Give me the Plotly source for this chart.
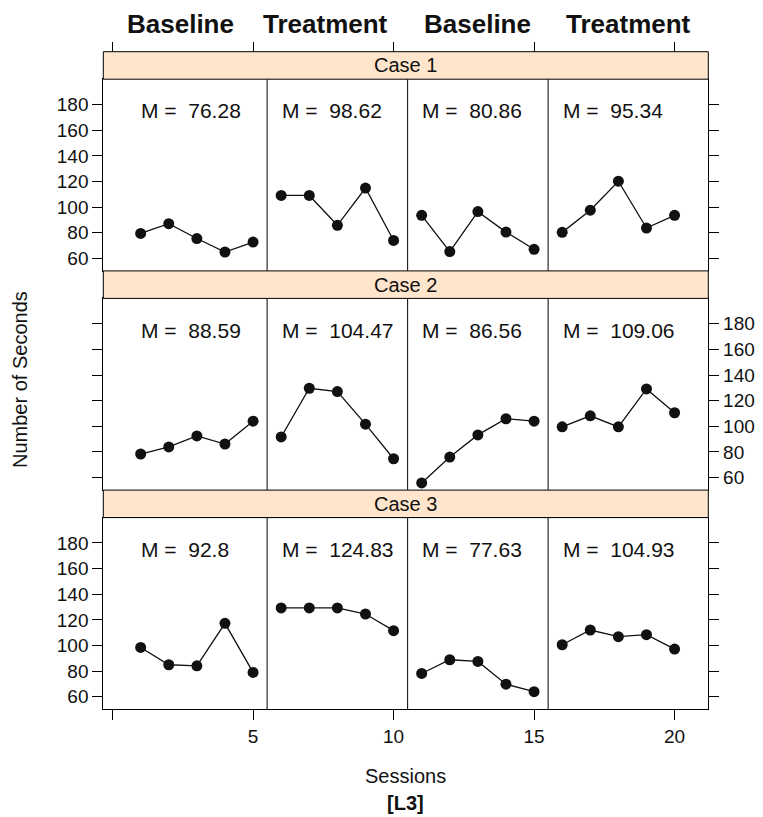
import plotly.graph_objects as go

# ---------------- data ----------------
sessions = list(range(1, 21))
phase_names = ["Baseline", "Treatment", "Baseline", "Treatment"]
phase_starts = [1, 6, 11, 16]
phase_bounds = [5.5, 10.5, 15.5]
cases = ["Case 1", "Case 2", "Case 3"]

case1_values = [79.5, 87.1, 75.5, 65.0, 72.7,
                109.1, 109.1, 85.8, 114.9, 74.0,
                93.6, 65.3, 96.5, 80.5, 67.1,
                80.3, 97.6, 120.2, 83.7, 93.6]
case2_values = [78.4, 83.9, 92.5, 86.2, 104.0,
                91.7, 129.7, 127.1, 101.7, 74.7,
                55.8, 76.0, 93.3, 105.9, 104.0,
                99.6, 108.2, 99.6, 129.2, 110.6]
case3_values = [98.5, 85.0, 84.2, 117.3, 79.0,
                129.3, 129.3, 129.3, 124.6, 111.6,
                78.2, 88.9, 87.6, 69.8, 64.0,
                100.6, 112.1, 106.9, 108.5, 97.2]
case_values = [case1_values, case2_values, case3_values]

case1_means = ["76.28", "98.62", "80.86", "95.34"]
case2_means = ["88.59", "104.47", "86.56", "109.06"]
case3_means = ["92.8", "124.83", "77.63", "104.93"]
case_means = [case1_means, case2_means, case3_means]

x_tickvals = [0, 5, 10, 15, 20]
x_ticktext = ["", "5", "10", "15", "20"]
y_tickvals = [60, 80, 100, 120, 140, 160, 180]

# ---------------- layout geometry ----------------
W, H = 763, 817
OFF = 8  # page body margin compensation
FONT = "Liberation Sans, Arial, Helvetica, sans-serif"
STRIP_FILL = "#ffe5cc"
INK = "#111111"

def px_x(p):
    return (p - OFF) / W

def px_y(p):
    return 1 - (p - OFF) / H

panel_left, panel_right = 103.3, 708.3
strip_tops = [51.7, 270.9, 490.1]
strip_h = 27.5
panel_h = 191.5
x_range = [-0.33, 21.2]
y_range = [50.4, 199.8]

fig = go.Figure()
layout = dict(
    width=W, height=H,
    margin=dict(l=0, r=0, t=0, b=0),
    paper_bgcolor="white", plot_bgcolor="white",
    showlegend=False,
    font=dict(family=FONT, size=19, color=INK),
)
shapes = []
annotations = []

for i, (name, vals, means) in enumerate(zip(cases, case_values, case_means)):
    n = i + 1
    xa = "x" if n == 1 else f"x{n}"
    ya = "y" if n == 1 else f"y{n}"
    st = strip_tops[i]
    p_top = st + strip_h
    p_bot = p_top + panel_h
    for k, s0 in enumerate(phase_starts):
        idx = [j for j, s in enumerate(sessions) if s0 <= s < s0 + 5]
        fig.add_trace(go.Scatter(
            x=[sessions[j] for j in idx], y=[vals[j] for j in idx],
            mode="lines+markers", xaxis=xa, yaxis=ya,
            line=dict(color=INK, width=1.3),
            marker=dict(color=INK, size=11),
            hoverinfo="x+y",
        ))
        annotations.append(dict(
            x=s0 - 0.05, y=175, xref=xa, yref=ya, xanchor="left", yanchor="middle",
            text=f"M =&nbsp; {means[k]}", showarrow=False,
            font=dict(size=21, color=INK),
        ))
    for b in phase_bounds:
        shapes.append(dict(type="line", xref=xa, yref=f"{ya} domain",
                           x0=b, x1=b, y0=0, y1=1,
                           line=dict(color="black", width=1)))
    shapes.append(dict(type="rect", xref="paper", yref="paper",
                       x0=px_x(panel_left), x1=px_x(panel_right),
                       y0=px_y(st + strip_h), y1=px_y(st),
                       fillcolor=STRIP_FILL, line=dict(color="black", width=1),
                       layer="above"))
    annotations.append(dict(x=px_x((panel_left + panel_right) / 2), y=px_y(st + strip_h / 2),
                            xref="paper", yref="paper", text=name, showarrow=False,
                            xanchor="center", yanchor="middle",
                            font=dict(size=20, color=INK)))
    last = (n == 3)
    layout["xaxis" if n == 1 else f"xaxis{n}"] = dict(
        domain=[px_x(panel_left), px_x(panel_right)], anchor=ya,
        range=x_range, showgrid=False, zeroline=False,
        showline=True, linecolor="black", linewidth=1, mirror=True,
        ticks="outside" if last else "", ticklen=10, tickcolor="black",
        tickvals=x_tickvals, ticktext=x_ticktext,
        showticklabels=last, tickfont=dict(size=19, color=INK),
    )
    layout["yaxis" if n == 1 else f"yaxis{n}"] = dict(
        domain=[px_y(p_bot), px_y(p_top)], anchor=xa,
        range=y_range, showgrid=False, zeroline=False,
        showline=True, linecolor="black", linewidth=1, mirror="ticks",
        ticks="outside", ticklen=10, tickcolor="black",
        tickvals=y_tickvals, side="right" if n == 2 else "left",
        tickfont=dict(size=19, color=INK),
    )

# top axis above the first strip (ticks only)
fig.add_trace(go.Scatter(x=[None], y=[None], xaxis="x4", yaxis="y",
                         mode="markers", showlegend=False, hoverinfo="skip"))
layout["xaxis4"] = dict(
    overlaying="x", anchor="free", position=px_y(strip_tops[0]), side="top",
    range=x_range, showgrid=False, zeroline=False, showline=False,
    ticks="outside", ticklen=10, tickcolor="black",
    tickvals=x_tickvals, showticklabels=False,
)

# phase labels on top
phase_label_px = [180, 325, 477, 628]
for name, xp in zip(phase_names, phase_label_px):
    annotations.append(dict(x=px_x(xp), y=px_y(24), xref="paper", yref="paper",
                            text=f"<b>{name}</b>", showarrow=False,
                            xanchor="center", yanchor="middle",
                            font=dict(size=26, color=INK)))

annotations.append(dict(x=px_x(20), y=px_y(380), xref="paper", yref="paper",
                        text="Number of Seconds", textangle=-90, showarrow=False,
                        xanchor="center", yanchor="middle",
                        font=dict(size=20, color=INK)))
annotations.append(dict(x=px_x(406), y=px_y(776), xref="paper", yref="paper",
                        text="Sessions", showarrow=False,
                        xanchor="center", yanchor="middle",
                        font=dict(size=20, color=INK)))
annotations.append(dict(x=px_x(406), y=px_y(803), xref="paper", yref="paper",
                        text="<b>[L3]</b>", showarrow=False,
                        xanchor="center", yanchor="middle",
                        font=dict(size=20, color=INK)))

layout["shapes"] = shapes
layout["annotations"] = annotations
fig.update_layout(**layout)
fig.write_html("out.html")
